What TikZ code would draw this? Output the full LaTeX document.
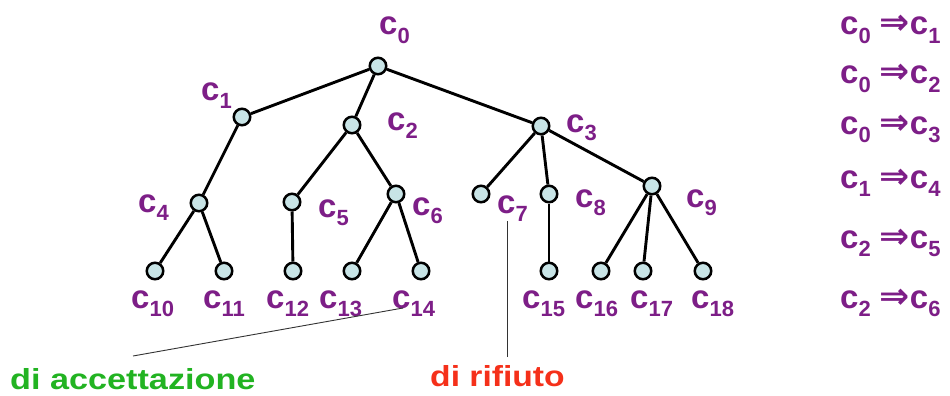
\documentclass[tikz,border=0pt]{standalone}
\usepackage{fontspec}
\setmainfont{Liberation Sans}
\newfontfamily\arrowfont{DejaVu Sans}
\definecolor{lblpurple}{HTML}{7D1E87}
\definecolor{accgreen}{HTML}{22B322}
\definecolor{rejred}{HTML}{F5301A}
\definecolor{nodefill}{HTML}{C8E4E6}
\newcommand\cl[1]{c\raisebox{-8.5pt}{\fontsize{22}{22}\selectfont #1}}
\newcommand\arr{\hspace{9pt}{\arrowfont\fontsize{36}{36}\selectfont ⇒}}
\begin{document}
\begin{tikzpicture}[x=1pt,y=-1pt,
  st/.style={circle,draw=black,line width=2.5pt,fill=nodefill,minimum size=16.5pt,inner sep=0pt},
  ed/.style={line width=2.9pt,black},
  lab/.style={anchor=base west,inner sep=0pt,text=lblpurple,font=\bfseries\fontsize{33}{33}\selectfont},
  note/.style={anchor=base west,inner sep=0pt,font=\bfseries\fontsize{29}{29}\selectfont},
  thin/.style={line width=0.9pt,black!80}]
\useasboundingbox (0,0) rectangle (950,396);
% states
\node[st] (n0) at (378,66) {};
\node[st] (n1) at (242,117) {};
\node[st] (n2) at (352,125) {};
\node[st] (n3) at (541,126) {};
\node[st] (n4) at (199,203) {};
\node[st] (n5) at (292,202) {};
\node[st] (n6) at (396,194) {};
\node[st] (n7) at (481,194) {};
\node[st] (n8) at (549,194) {};
\node[st] (n9) at (652,186) {};
\node[st] (n10) at (155,271) {};
\node[st] (n11) at (224,271) {};
\node[st] (n12) at (293,271) {};
\node[st] (n13) at (352,271) {};
\node[st] (n14) at (421,271) {};
\node[st] (n15) at (549,271) {};
\node[st] (n16) at (601,271) {};
\node[st] (n17) at (643,271) {};
\node[st] (n18) at (703,271) {};
% edges
\foreach \a/\b in {0/1,0/2,0/3,1/4,2/5,2/6,3/7,3/8,3/9,4/10,4/11,5/12,6/13,6/14,8/15,9/16,9/17,9/18}
  \draw[ed] (n\a) -- (n\b);
% labels
\node[lab] (l0) at (379,35) {\cl{0}};
\node[lab] (l1) at (201,100) {\cl{1}};
\node[lab] (l2) at (387,130) {\cl{2}};
\node[lab] (l3) at (566,132) {\cl{3}};
\node[lab] (l4) at (138,212) {\cl{4}};
\node[lab] (l5) at (318,217) {\cl{5}};
\node[lab] (l6) at (412,215) {\cl{6}};
\node[lab] (l7) at (497,213) {\cl{7}};
\node[lab] (l8) at (575,207) {\cl{8}};
\node[lab] (l9) at (686,207) {\cl{9}};
\node[lab] (l10) at (131,308) {\cl{10}};
\node[lab] (l11) at (203,308) {\cl{11}};
\node[lab] (l12) at (266,308) {\cl{12}};
\node[lab] (l13) at (319,308) {\cl{13}};
\node[lab] (l14) at (392,308) {\cl{14}};
\node[lab] (l15) at (522,308) {\cl{15}};
\node[lab] (l16) at (575,308) {\cl{16}};
\node[lab] (l17) at (630,308) {\cl{17}};
\node[lab] (l18) at (691,308) {\cl{18}};
% derivations
\node[lab] (r1) at (840,35) {\cl{0}\arr\cl{1}};
\node[lab] (r2) at (840,84) {\cl{0}\arr\cl{2}};
\node[lab] (r3) at (840,134) {\cl{0}\arr\cl{3}};
\node[lab] (r4) at (840,188) {\cl{1}\arr\cl{4}};
\node[lab] (r5) at (840,248) {\cl{2}\arr\cl{5}};
\node[lab] (r6) at (840,308) {\cl{2}\arr\cl{6}};
% annotations
\node[note,text=accgreen] (acc) at (10,389) {\scalebox{1.18}[1]{di accettazione}};
\node[note,text=rejred] (rej) at (430,386) {\scalebox{1.16}[1]{di rifiuto}};
\coordinate (accstart) at (133,356);
\coordinate (accend) at (403,308);
\coordinate (rejstart) at (507,357);
\coordinate (rejend) at (507,221);
\draw[thin] (accstart) -- (accend);
\draw[thin] (rejstart) -- (rejend);
\end{tikzpicture}
\end{document}
